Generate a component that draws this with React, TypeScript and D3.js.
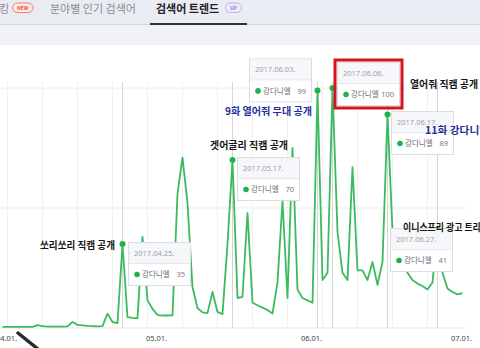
import React from "react";
import * as d3 from "d3";

// ---- data ----
const seriesName = "강다니엘";
const startDate = "2017-04-01";
// daily search index from 04.01 to 07.02
const values = [
  0.5, 0.5, 0.5, 0.5, 0.5, 0.5, 0.5, 1.2, 0.8, 0.6,
  0.6, 0.6, 0.6, 0.7, 2.5, 1.3, 1.1, 0.9, 0.8, 0.7,
  0.8, 6, 2.5, 2, 35, 4.5, 4.2, 4, 38, 11.5,
  8, 5.5, 5.2, 5.2, 5.3, 56, 71, 52, 17, 8.3,
  6.5, 6.2, 15, 6.7, 5.8, 35, 70, 12.5, 13, 48,
  10.5, 9.5, 8.5, 7.5, 6, 19, 53, 12.5, 75, 16,
  12.5, 11.5, 10.5, 99, 20, 23, 100, 40, 23, 20,
  67, 24, 24, 20, 27.5, 18, 27.5, 89, 40, 30,
  26, 23, 20, 18.5, 17.5, 16, 19, 41, 23, 16.5,
  15, 14, 14.5,
];
const xTickDates = ["2017-04-01", "2017-05-01", "2017-06-01", "2017-07-01"];
const xTickLabels = ["04.01.", "05.01.", "06.01.", "07.01."];
const yTicks = [0, 50, 100];
const highlightDates = ["2017-04-25", "2017-05-17", "2017-06-03", "2017-06-06", "2017-06-17", "2017-06-27"];
const highlightLabels = ["2017.04.25.", "2017.05.17.", "2017.06.03.", "2017.06.06.", "2017.06.17.", "2017.06.27."];
const annotationTexts = ["쏘리쏘리 직캠 공개", "겟어글리 직캠 공개", "9화 열어줘 무대 공개", "열어줘 직캠 공개", "11화 강다니엘 등장", "이니스프리 광고 트리거"];
const tabLabels = ["킹", "분야별 인기 검색어", "검색어 트렌드"];

// ---- layout ----
const W = 480, H = 348;
const tooltipOffsets = [
  [5.5, -2], [4.5, -3], [-68.5, -32], [4.5, -26], [3.5, -3.4], [-47.5, -1.6],
];
const annotationLayout = [
  { x: 40, y: 245, w: 75, color: "#151515" },
  { x: 210, y: 145, w: 78, color: "#151515" },
  { x: 225, y: 111, w: 87, color: "#1f2f9e" },
  { x: 410, y: 84, w: 68, color: "#151515" },
  { x: 425, y: 130, w: 86, color: "#1f2f9e" },
  { x: 403, y: 227, w: 86, color: "#151515" },
];
const FONT = "'Noto Sans CJK KR', 'Noto Sans', sans-serif";
const GREEN = "#3cba5e";
const DOT = "#1fb24c";

const parse = d3.timeParse("%Y-%m-%d");

export default function App() {
  const t0 = parse(startDate) as Date;
  const data = values.map((v, i) => ({ date: d3.timeDay.offset(t0, i), value: v }));
  const x = d3.scaleTime()
    .domain([parse("2017-04-01") as Date, parse("2017-07-01") as Date])
    .range([2.5, 457.5]);
  const y = d3.scaleLinear().domain([0, 100]).range([328, 88]);
  const line = d3.line<{ date: Date; value: number }>()
    .x((d) => x(d.date))
    .y((d) => y(d.value));

  const sundays = d3.timeSunday.range(parse("2017-04-01") as Date, parse("2017-07-01") as Date);

  const highlights = highlightDates.map((ds, k) => {
    const dt = parse(ds) as Date;
    const idx = d3.timeDay.count(t0, dt);
    const v = values[idx];
    const px = x(dt), py = y(v);
    const [dx, dy] = tooltipOffsets[k];
    return { label: highlightLabels[k], value: v, px, py, bx: px + dx, by: py + dy };
  });
  const TW = 62, TH = 43;

  return (
    <div style={{ position: "absolute", left: 0, top: 0 }}>
      <svg width={W} height={H} style={{ display: "block", background: "#fff" }} fontFamily={FONT}>
        {/* header */}
        <rect x={0} y={0} width={W} height={25} fill="#eaecf3" />
        <rect x={0} y={25} width={W} height={20} fill="#f1f2f7" />
        <line x1={0} x2={W} y1={24.5} y2={24.5} stroke="#d3d6de" strokeWidth={1} />
        <text x={-1} y={12.5} fontSize={11} fill="#8a8c92">{tabLabels[0]}</text>
        <rect x={12.5} y={3} width={20.5} height={9.5} rx={4.75} fill="#fde8e4" stroke="#ef6b57" strokeWidth={0.8} />
        <text x={22.75} y={10.2} fontSize={5} fill="#e8553f" textAnchor="middle" fontWeight={700}>NEW</text>
        <text x={50} y={12.5} fontSize={11} fill="#8a8c92">{tabLabels[1]}</text>
        <text x={156} y={12.5} fontSize={11} fill="#222" fontWeight={700}>{tabLabels[2]}</text>
        <rect x={225.5} y={3} width={16} height={9.5} rx={4.75} fill="#eeeafc" stroke="#b3a3ea" strokeWidth={0.8} />
        <text x={233.5} y={10.2} fontSize={5} fill="#8f78df" textAnchor="middle" fontWeight={700}>UP</text>
        <rect x={150} y={23} width={97} height={2} fill="#333" />

        {/* grid */}
        {sundays.map((d, i) => (
          <line key={"w" + i} x1={x(d)} x2={x(d)} y1={82} y2={328} stroke="#f1f1f1" strokeWidth={1} />
        ))}
        {yTicks.map((t) => (
          <line key={"y" + t} x1={0} x2={466} y1={y(t)} y2={y(t)} stroke={t === 0 ? "#e2e2e2" : "#ececec"} strokeWidth={1} />
        ))}
        {highlights.map((h, i) => (
          <line key={"c" + i} x1={h.px} x2={h.px} y1={82} y2={328} stroke="#d6d6d6" strokeWidth={1} />
        ))}
        {xTickDates.map((ds, i) => (
          <text key={"xl" + i} x={x(parse(ds) as Date) + 4} y={341} fontSize={7.5} fill="#444" textAnchor="middle" fontFamily="'Noto Sans', sans-serif">
            {xTickLabels[i]}
          </text>
        ))}

        {/* series */}
        <path d={line(data) || ""} fill="none" stroke={GREEN} strokeWidth={1.8} strokeLinejoin="round" />
        {highlights.map((h, i) => (
          <circle key={"d" + i} cx={h.px} cy={h.py} r={3} fill={DOT} />
        ))}

        {/* tooltips */}
        {highlights.map((h, i) => (
          <g key={"t" + i} transform={`translate(${h.bx},${h.by})`}>
            <rect x={0.5} y={0.5} width={TW} height={TH} fill="#fff" stroke="#dcdde2" strokeWidth={1} />
            <rect x={1} y={1} width={TW - 1} height={20} fill="#f6f7fa" />
            <line x1={1} x2={TW} y1={21.5} y2={21.5} stroke="#e6e7ec" />
            <text x={6} y={14} fontSize={7.5} fill="#a0a2a8" fontFamily="'Noto Sans', sans-serif">{h.label}</text>
            <circle cx={9} cy={32.5} r={2.8} fill={DOT} />
            <text x={14} y={35.2} fontSize={7.5} fill="#6a6c72">{seriesName}</text>
            <text x={TW - 5} y={35.2} fontSize={7.5} fill="#7a7c82" textAnchor="end" fontFamily="'Noto Sans', sans-serif">{h.value}</text>
          </g>
        ))}

        {/* red highlight frame */}
        {(() => {
          const h = highlights[3];
          return <rect x={h.bx - 2} y={h.by - 2} width={TW + 5} height={TH + 5} fill="none" stroke="#d2151e" strokeWidth={3} />;
        })()}

        {/* handwritten annotations */}
        {annotationTexts.map((t, i) => {
          const a = annotationLayout[i];
          return (
            <text key={"a" + i} x={a.x} y={a.y + 3.5} fontSize={10} fontWeight={700} fill={a.color}
              textLength={a.w} lengthAdjust="spacingAndGlyphs">
              {t}
            </text>
          );
        })}

        {/* pen stroke */}
        <line x1={18} y1={333} x2={38} y2={349} stroke="#2a2a2a" strokeWidth={3.5} strokeLinecap="round" />
      </svg>
    </div>
  );
}
